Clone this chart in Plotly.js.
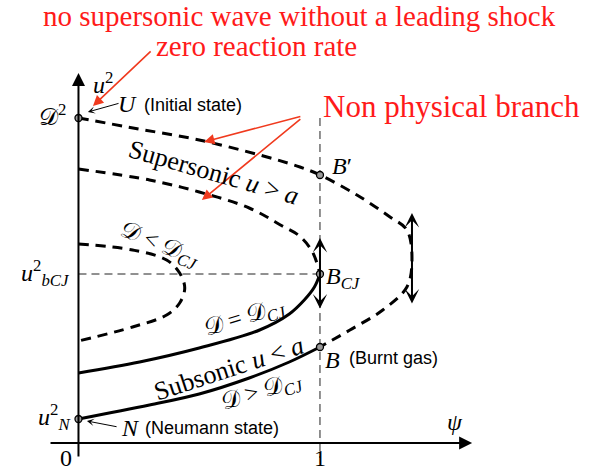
<!DOCTYPE html>
<html>
<head>
<meta charset="utf-8">
<script src="https://cdn.plot.ly/plotly-3.0.1.min.js"></script>
<style>html,body{margin:0;padding:0;background:#fff;}</style>
</head>
<body>
<div id="chart" style="width:596px;height:471px;"></div>
<script>
// ---- data (psi, u^2 in schematic units) ----
const outerDashPsi = [0, 0.25, 0.50, 0.75, 0.917, 1.0, 1.153, 1.29, 1.36, 1.381, 1.36, 1.26, 1.124, 1.029, 1.0];
const outerDashU2  = [3.25, 3.14, 3.03, 2.88, 2.76, 2.68, 2.48, 2.26, 2.13, 1.83, 1.56, 1.33, 1.13, 1.0, 0.96];
const outerSolidPsi = [0, 0.294, 0.50, 0.707, 0.873, 1.0];
const outerSolidU2  = [0.24, 0.38, 0.49, 0.65, 0.81, 0.96];
const cjDashPsi = [0, 0.294, 0.50, 0.707, 0.844, 0.915, 0.969, 1.0];
const cjDashU2  = [2.74, 2.63, 2.51, 2.35, 2.17, 2.07, 1.91, 1.69];
const cjSolidPsi = [0, 0.253, 0.50, 0.75, 0.873, 0.935, 0.977, 1.0];
const cjSolidU2  = [0.70, 0.81, 0.95, 1.13, 1.29, 1.43, 1.56, 1.69];
const innerPsi = [0, 0.224, 0.365, 0.419, 0.44, 0.419, 0.365, 0.224, 0];
const innerU2  = [1.99, 1.93, 1.83, 1.70, 1.55, 1.40, 1.28, 1.16, 1.02];
const pointNames = ["D2", "B'", "BCJ", "B", "N"];
const pointPsi = [0, 1, 1, 1, 0];
const pointU2  = [3.25, 2.68, 1.69, 0.96, 0.24];
const uBCJ = 1.69;
const psiOne = 1;
const xTickLabels = ["0", "1"];
const xTickVals = [0, 1];

// ---- styles ----
const thick = {color: '#000', width: 3, dash: '10px,7px', shape: 'spline'};
const solid = {color: '#000', width: 3, shape: 'spline'};
const thin = {color: '#222', width: 1, dash: '8px,5px'};

const traces = [
  {x: [psiOne, psiOne], y: [3.25, -0.15], mode: 'lines', line: thin},
  {x: [0, psiOne], y: [uBCJ, uBCJ], mode: 'lines', line: thin},
  {x: outerDashPsi, y: outerDashU2, mode: 'lines', line: thick},
  {x: outerSolidPsi, y: outerSolidU2, mode: 'lines', line: solid},
  {x: cjDashPsi, y: cjDashU2, mode: 'lines', line: thick},
  {x: cjSolidPsi, y: cjSolidU2, mode: 'lines', line: solid},
  {x: innerPsi, y: innerU2, mode: 'lines', line: thick},
  {x: pointPsi, y: pointU2, text: pointNames, mode: 'markers',
   marker: {size: 7, color: '#9a9a9a', line: {color: '#000', width: 1.3}}}
];

const serif = 'Liberation Serif, Times New Roman, serif';
const sans = 'Liberation Sans, Arial, sans-serif';
const red = '#ff1a1a';
const M = 24;   // math/serif label size
const L = 26;   // long rotated labels
const S = 18;   // sans label size
const CD = '\ud835\udc9f'; // calligraphic D

function txt(text, x, y, size, opts) {
  return Object.assign({text: text, x: x, y: y, xref: 'x', yref: 'y', showarrow: false,
    font: {family: serif, size: size, color: '#000'}}, opts || {});
}
function arrow(x, y, ax, ay, color, w, head, size, side) {
  return {x: x, y: y, ax: ax, ay: ay, xref: 'x', yref: 'y', axref: 'x', ayref: 'y', text: '',
    showarrow: true, arrowcolor: color, arrowwidth: w, arrowhead: head, arrowsize: size,
    arrowside: side || 'end', standoff: 0, startstandoff: 0};
}
const sansFont = {family: sans, size: S, color: '#000'};

const annotations = [
  // axes
  arrow(0, 3.7, 0, -0.15, '#000', 2, 2, 1.3),
  arrow(1.63, 0, -0.122, 0, '#000', 2, 2, 1.3),
  // double arrows
  arrow(psiOne, 2.05, psiOne, 1.33, '#000', 2, 3, 1.2, 'end+start'),
  arrow(1.381, 2.30, 1.381, 1.38, '#000', 2, 3, 1.2, 'end+start'),
  // red arrows
  arrow(0.060, 3.37, 0.305, 3.93, '#f03a1e', 1.6, 2, 1.3),
  arrow(0.520, 3.01, 0.925, 3.27, '#f03a1e', 1.6, 2, 1.3),
  arrow(0.511, 2.43, 0.925, 3.25, '#f03a1e', 1.6, 2, 1.3),
  // black label arrows
  arrow(0.039, 3.31, 0.172, 3.40, '#000', 1, 3, 1.2),
  arrow(0.035, 0.22, 0.164, 0.16, '#000', 1, 3, 1.2),
  // red texts
  txt('no supersonic wave without a leading shock', 0.917, 4.27, 29, {font: {family: serif, size: 29, color: red}}),
  txt('zero reaction rate', 0.739, 3.97, 29, {font: {family: serif, size: 29, color: red}}),
  txt('Non physical branch', 1.543, 3.37, 31, {font: {family: serif, size: 31, color: red}}),
  // labels
  txt('<i>U</i>', 0.205, 3.39, M),
  txt('(Initial state)', 0.263, 3.38, S, {xanchor: 'left', font: sansFont}),
  txt('<i>u</i><sup>2</sup>', 0.101, 3.60, M),
  txt(CD + '<sup>2</sup>', -0.043, 3.28, M, {xanchor: 'right'}),
  txt('Supersonic <i>u</i> > <i>a</i>', 0.561, 2.71, L, {textangle: 16}),
  txt('<i>B</i>\u2032', 1.040, 2.77, M, {xanchor: 'left'}),
  txt(CD + ' < ' + CD + '<sub><i>CJ</i></sub>', 0.337, 1.98, M, {textangle: 22}),
  txt('<i>u</i><sup>2</sup><sub><i>bCJ</i></sub>', -0.027, 1.70, M, {xanchor: 'right'}),
  txt('<i>B</i><sub><i>CJ</i></sub>', 1.017, 1.65, M, {xanchor: 'left'}),
  txt(CD + ' = ' + CD + '<sub><i>CJ</i></sub>', 0.689, 1.25, M, {textangle: -17}),
  txt('Subsonic <i>u</i> < <i>a</i>', 0.623, 0.75, L, {textangle: -18}),
  txt(CD + ' > ' + CD + '<sub><i>CJ</i></sub>', 0.760, 0.51, M, {textangle: -17}),
  txt('<i>B</i>', 1.012, 0.83, M, {xanchor: 'left'}),
  txt('(Burnt gas)', 1.112, 0.85, S, {xanchor: 'left', font: sansFont}),
  txt('<i>u</i><sup>2</sup><sub><i>N</i></sub>', -0.027, 0.26, M, {xanchor: 'right'}),
  txt('<i>N</i>', 0.168, 0.15, M, {xanchor: 'left'}),
  txt('(Neumann state)', 0.267, 0.15, S, {xanchor: 'left', font: sansFont}),
  txt('<i>\u03c8</i>', 1.559, 0.21, M),
  txt(xTickLabels[0], xTickVals[0] - 0.052, -0.15, M),
  txt(xTickLabels[1], xTickVals[1], -0.15, M)
];

const layout = {
  width: 596, height: 471,
  margin: {l: 0, r: 0, t: 0, b: 0},
  paper_bgcolor: '#fff', plot_bgcolor: '#fff',
  showlegend: false,
  xaxis: {range: [-0.325, 2.143], visible: false, fixedrange: true},
  yaxis: {range: [-0.28, 4.43], visible: false, fixedrange: true},
  annotations: annotations
};

Plotly.newPlot('chart', traces, layout, {displayModeBar: false, staticPlot: true});
</script>
</body>
</html>
